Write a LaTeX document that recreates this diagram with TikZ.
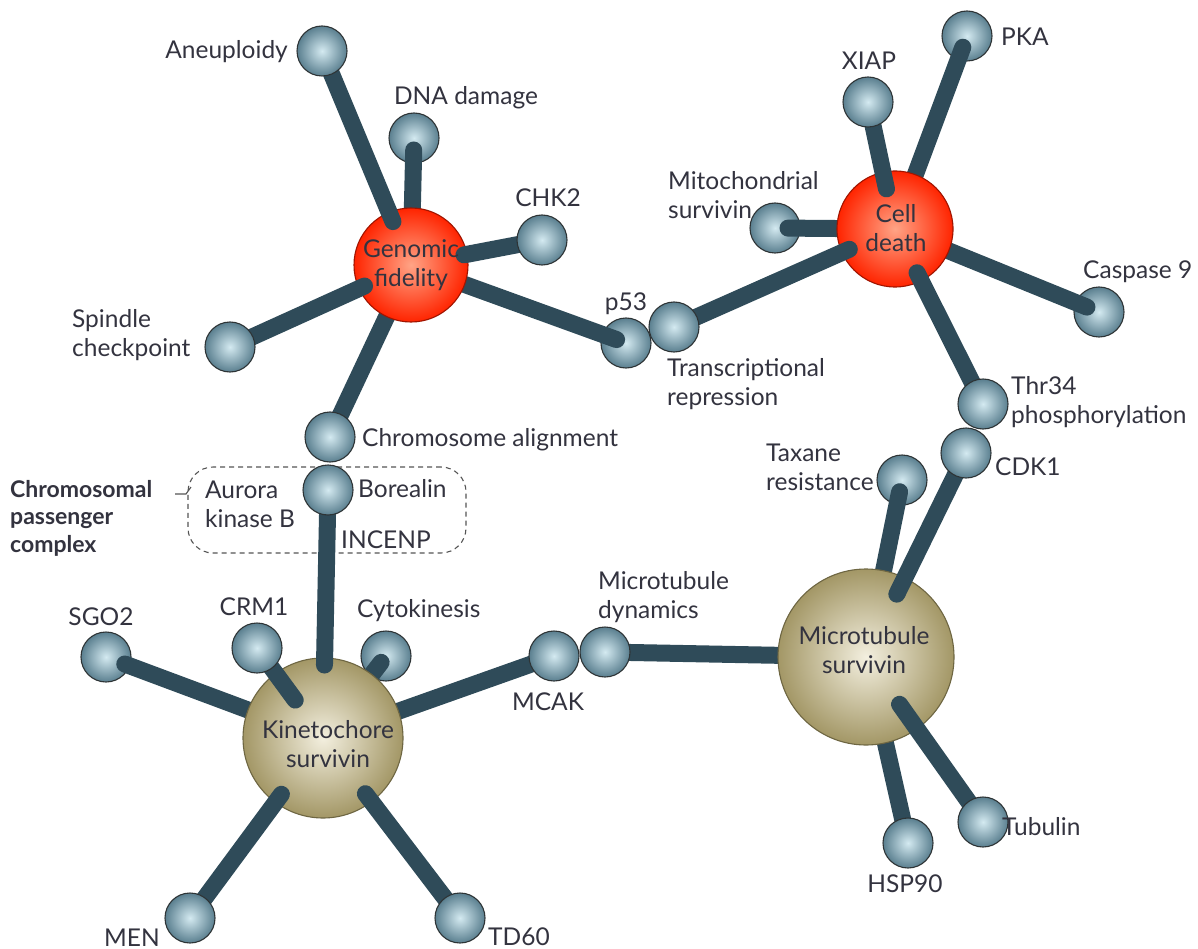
\documentclass[tikz,border=0pt]{standalone}
\usepackage{fontspec}
\setmainfont{Lato}
\usetikzlibrary{calc}
\definecolor{barc}{HTML}{2F4B59}
\definecolor{ballin}{HTML}{D4EAF1}
\definecolor{ballout}{HTML}{5A7F8F}
\definecolor{ballline}{HTML}{2E3436}
\definecolor{redin}{HTML}{FFA486}
\definecolor{redout}{HTML}{FF2400}
\definecolor{redline}{HTML}{A01400}
\definecolor{olin}{HTML}{F3EFDF}
\definecolor{olout}{HTML}{A39766}
\definecolor{olline}{HTML}{6E6642}
\definecolor{txt}{HTML}{33333F}
\definecolor{dashc}{HTML}{555555}
\begin{document}
\begin{tikzpicture}[x=1pt,y=-1pt,
  ball/.style={circle, minimum size=50pt, inner sep=0pt, draw=ballline, line width=1.1pt, inner color=ballin, outer color=ballout},
  redbig/.style={circle, inner sep=0pt, draw=redline, line width=1.1pt, inner color=redin, outer color=redout},
  olbig/.style={circle, inner sep=0pt, draw=olline, line width=1.1pt, inner color=olin, outer color=olout},
  bar/.style={draw=barc, line width=17pt, line cap=round},
  lbl/.style={font=\fontsize{24.5}{29}\selectfont, text=txt, inner sep=0pt, align=left},
  cpcbox/.style={draw=dashc, dashed, dash pattern=on 5pt off 4pt, line width=1.1pt, rounded corners=25pt, minimum width=278pt, minimum height=86pt, inner sep=0pt},
]
\useasboundingbox[fill=white] (0,0) rectangle (1198,949);

% passenger complex box
\node[cpcbox] (cpc) at (327,510) {};
\node[lbl, font=\fontsize{23}{27.5}\selectfont\bfseries, anchor=base west] (cpclbl) at (10,552) {Chromosomal\\passenger\\complex};
\coordinate (cpct) at (175,494);
\draw[dashc, line width=1.1pt] (cpct) -- ++(11,0) -- ++(5,-7);

% positions
\path (322,51) coordinate (aneuP) (414,138) coordinate (dnaP) (542,240) coordinate (chkP)
      (230,347) coordinate (spinP) (330,437) coordinate (chromP) (328,490) coordinate (boreP)
      (626,343) coordinate (pffP) (674,327) coordinate (trrP) (775,228) coordinate (mitoP)
      (868,102) coordinate (xiapP) (967,36) coordinate (pkaP) (1099,312) coordinate (caspP)
      (983,404) coordinate (thrP) (966,453) coordinate (cdkP) (902,480) coordinate (taxP)
      (605,652) coordinate (mdynP) (554,656) coordinate (mcakP) (386,656) coordinate (cytoP)
      (257,648) coordinate (crmP) (106,657) coordinate (sgoP) (190,918) coordinate (menP)
      (460,918) coordinate (tdsxP) (983,822) coordinate (tubP) (908,843) coordinate (hspP)
      (411,265) coordinate (gfP) (895,229) coordinate (cdP) (323,738) coordinate (ksP) (866,657) coordinate (msP);

% layer A: bars under everything
\draw[bar] (gfP) -- (chromP);
\draw[bar] (mcakP) -- (ksP);
\draw[bar] (mdynP) -- (msP);
\draw[bar] (hspP) -- (msP);

% layer B: balls lying under their bars
\node[ball] (dna) at (dnaP) {};
\node[ball] (pka) at (pkaP) {};
\node[ball] (mito) at (mitoP) {};
\node[ball] (casp) at (caspP) {};
\node[ball] (tax) at (taxP) {};
\node[ball] (cyto) at (cytoP) {};
\node[ball] (sgo) at (sgoP) {};
\node[ball] (pff) at (pffP) {};

% layer C: bars over those balls, under the big circles
\draw[bar, shorten <=12pt] (dna.center) -- (gfP);
\draw[bar, shorten <=10pt] (pff.center) -- (gfP);
\draw[bar, shorten <=12pt] (pka.center) -- (cdP);
\draw[bar, shorten <=13pt] (mito.center) -- (cdP);
\draw[bar, shorten <=13pt] (casp.center) -- (cdP);
\draw[bar, shorten <=12pt] (tax.center) -- (msP);
\draw[bar, shorten <=8pt] (cyto.center) -- (ksP);
\draw[bar, shorten <=20pt] (sgo.center) -- (ksP);

% big circles
\node[redbig, minimum size=114pt] (gf) at (gfP) {};
\node[redbig, minimum size=116pt] (cd) at (cdP) {};
\node[olbig, minimum size=160pt] (ks) at (ksP) {};
\node[olbig, minimum size=176pt] (ms) at (msP) {};

% layer D: bars over the big circles
\draw[bar, shorten >=47pt] (aneuP) -- (gf.center);
\draw[bar, shorten >=54pt] (chkP) -- (gf.center);
\draw[bar, shorten >=51pt] (spinP) -- (gf.center);
\draw[bar, shorten >=41pt] (xiapP) -- (cd.center);
\draw[bar, shorten >=50pt] (trrP) -- (cd.center);
\draw[bar, shorten >=49pt] (thrP) -- (cd.center);
\draw[bar, shorten >=70pt] (cdkP) -- (ms.center);
\draw[bar, shorten >=58pt] (tubP) -- (ms.center);
\draw[bar, shorten >=73pt] (boreP) -- (ks.center);
\draw[bar, shorten >=47pt] (crmP) -- (ks.center);
\draw[bar, shorten >=70pt] (menP) -- (ks.center);
\draw[bar, shorten >=70pt] (tdsxP) -- (ks.center);

% layer E: balls on top
\node[ball] (aneu) at (aneuP) {};
\node[ball] (chk) at (chkP) {};
\node[ball] (spin) at (spinP) {};
\node[ball] (chrom) at (chromP) {};
\node[ball] (bore) at (boreP) {};
\node[ball] (trr) at (trrP) {};
\node[ball] (xiap) at (xiapP) {};
\node[ball] (thr) at (thrP) {};
\node[ball] (cdk) at (cdkP) {};
\node[ball] (mdyn) at (mdynP) {};
\node[ball] (mcak) at (mcakP) {};
\node[ball] (crm) at (crmP) {};
\node[ball] (men) at (menP) {};
\node[ball] (tdsx) at (tdsxP) {};
\node[ball] (tub) at (tubP) {};
\node[ball] (hsp) at (hspP) {};

% circle labels
\node[lbl, align=center, anchor=base] (gfl) at (411,287) {Genomic\\fidelity};
\node[lbl, align=center, anchor=base] (cdl) at (896,252) {Cell\\death};
\node[lbl, align=center, anchor=base] (ksl) at (328,767) {Kinetochore\\survivin};
\node[lbl, align=center, anchor=base] (msl) at (864,673) {Microtubule\\survivin};

% labels
\node[lbl, anchor=base east] (aneul) at (288,59) {Aneuploidy};
\node[lbl, anchor=base] (dnal) at (466,105) {DNA damage};
\node[lbl, anchor=base] (chkl) at (548,207) {CHK2};
\node[lbl, anchor=base west] (spinl) at (72,356) {Spindle\\checkpoint};
\node[lbl, anchor=base west] (chroml) at (362,446) {Chromosome alignment};
\node[lbl, anchor=base west] (aurl) at (205,527) {Aurora\\kinase B};
\node[lbl, anchor=base west] (borel) at (358,497) {Borealin};
\node[lbl, anchor=base west] (incl) at (341,548) {INCENP};
\node[lbl, anchor=base] (pffl) at (626,310) {p53};
\node[lbl, anchor=base west] (trrl) at (667,405) {Transcriptional\\repression};
\node[lbl, anchor=base west] (mitol) at (668,219) {Mitochondrial\\survivin};
\node[lbl, anchor=base] (xiapl) at (869,70) {XIAP};
\node[lbl, anchor=base west] (pkal) at (1001,46) {PKA};
\node[lbl, anchor=base west] (caspl) at (1083,279) {Caspase 9};
\node[lbl, anchor=base west] (thrl) at (1011,423) {Thr34\\phosphorylation};
\node[lbl, anchor=base west] (cdkl) at (995,475) {CDK1};
\node[lbl, anchor=base west] (taxl) at (766,490) {Taxane\\resistance};
\node[lbl, anchor=base west] (mdynl) at (598,618) {Microtubule\\dynamics};
\node[lbl, anchor=base] (mcakl) at (548,710) {MCAK};
\node[lbl, anchor=base west] (cytol) at (357,617) {Cytokinesis};
\node[lbl, anchor=base] (crml) at (254,615) {CRM1};
\node[lbl, anchor=base] (sgol) at (101,625) {SGO2};
\node[lbl, anchor=base east] (menl) at (160,946) {MEN};
\node[lbl, anchor=base west] (tdsxl) at (488,945) {TD60};
\node[lbl, anchor=base west] (tubl) at (1002,835) {Tubulin};
\node[lbl, anchor=base] (hspl) at (905,892) {HSP90};
\end{tikzpicture}
\end{document}
